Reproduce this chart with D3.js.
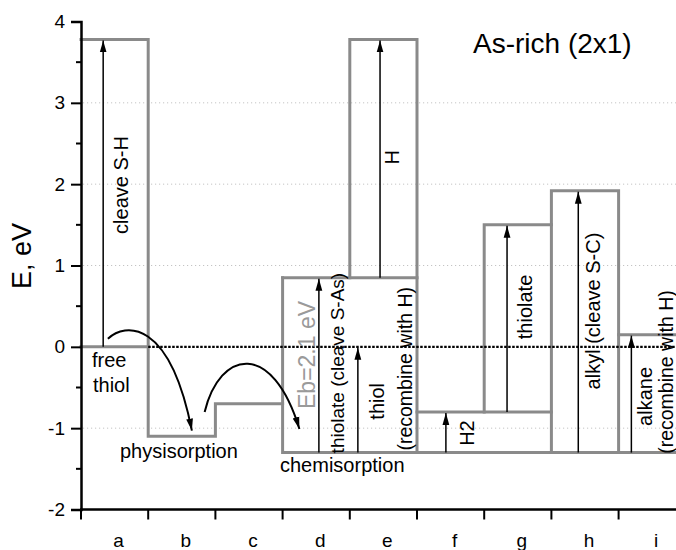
<!DOCTYPE html>
<html>
<head>
<meta charset="utf-8">
<script src="https://cdn.jsdelivr.net/npm/d3@7"></script>
<style>
  html, body { margin: 0; padding: 0; background: #fff; }
  svg { display: block; font-family: "Liberation Sans", Arial, Helvetica, sans-serif; }
</style>
</head>
<body>
<svg id="chart" width="676" height="550"></svg>
<script>
// ---------- data ----------
const categories = ["a", "b", "c", "d", "e", "f", "g", "h", "i"];
const yTickValues = [-2, -1, 0, 1, 2, 3, 4];
const yMinorValues = [-1.5, -0.5, 0.5, 1.5, 2.5, 3.5];
const gridValues = [-1, 1, 2, 3];

// energy-level outline, as [boundary index, energy (eV)] vertices
const levelOutlines = [
  [[0, 3.78], [1, 3.78], [1, -1.1], [2, -1.1], [2, -0.7], [3, -0.7]],
  [[0, 0], [1, 0]],
  [[3, 0.85], [5, 0.85]],
  [[3, 0.85], [3, -1.3], [9.3, -1.3]],
  [[4, 0.85], [4, 3.78], [5, 3.78], [5, -1.3]],
  [[5, -0.8], [7, -0.8]],
  [[6, -0.8], [6, 1.5], [7, 1.5]],
  [[7, -1.3], [7, 1.92], [8, 1.92], [8, -1.3]],
  [[8, 0.15], [9.3, 0.15]]
];

// vertical transition arrows: category, start energy, end energy
const arrowCats = ["a", "d", "e", "e", "f", "g", "h", "i"];
const arrowFrom = [0, -1.3, -1.3, 0.85, -1.3, -0.8, -1.3, -1.3];
const arrowTo = [3.78, 0.85, 0, 3.78, -0.8, 1.5, 1.92, 0.15];

// rotated labels
const vLabelText = ["cleave S-H", "H", "thiolate (cleave S-As)", "thiol", "(recombine with H)",
                    "H2", "thiolate", "alkyl  (cleave S-C)", "alkane", "(recombine with H)"];
const vLabelCat = ["a", "e", "d", "e", "e", "f", "g", "h", "i", "i"];
const vLabelE = [1.99, 2.33, -0.2, -0.67, -0.27, -1.06, 0.49, 0.44, -0.61, -0.31];

const ebText = "Eb=2.1 eV";
const stateText = ["free", "thiol", "physisorption", "chemisorption"];
const titleText = "As-rich (2x1)";
const yTitle = "E, eV";

// ---------- layout ----------
const arrowFrac = [0.33, 0.54, 0.12, 0.45, 0.43, 0.34, 0.40, 0.19];
const vLabelFrac = [0.60, 0.63, 0.81, 0.40, 0.82, 0.74, 0.61, 0.62, 0.40, 0.70];
const vLabelSize = [20, 20, 19, 20, 19.5, 20, 20, 20, 20, 19.5];

const svg = d3.select("#chart");
const x = d3.scaleBand().domain(categories).range([81, 685.8]).paddingInner(0).paddingOuter(0);
const y = d3.scaleLinear().domain([-2, 4]).range([509.5, 21.5]);
const bx = i => x.range()[0] + i * x.step();
const cx = (c, f) => x(c) + f * x.bandwidth();

const GRAY = "#8a8a8a";

// gridlines
svg.append("g").selectAll("line").data(gridValues).join("line")
  .attr("x1", 83).attr("x2", 676)
  .attr("y1", d => y(d)).attr("y2", d => y(d))
  .attr("stroke", "#c4c4c4").attr("stroke-width", 1).attr("stroke-dasharray", "1.2,2.8");

// outlines
const line = d3.line().x(d => bx(d[0])).y(d => y(d[1]));
svg.append("g").selectAll("path").data(levelOutlines).join("path")
  .attr("d", line).attr("fill", "none")
  .attr("stroke", GRAY).attr("stroke-width", 3).attr("stroke-linejoin", "miter").attr("stroke-linecap", "square");

// zero line
svg.append("line")
  .attr("x1", bx(1)).attr("x2", 676).attr("y1", y(0)).attr("y2", y(0))
  .attr("stroke", "#000").attr("stroke-width", 2.2).attr("stroke-dasharray", "2.5,1.5");

// arrow marker
const defs = svg.append("defs");
defs.append("marker").attr("id", "ah").attr("viewBox", "0 0 12 8")
  .attr("refX", 12).attr("refY", 4).attr("markerWidth", 12).attr("markerHeight", 8)
  .attr("markerUnits", "userSpaceOnUse").attr("orient", "auto")
  .append("path").attr("d", "M0,0.6 L12,4 L0,7.4 Z").attr("fill", "#000");

// vertical arrows
svg.append("g").selectAll("line").data(arrowCats).join("line")
  .attr("x1", (c, i) => cx(c, arrowFrac[i])).attr("x2", (c, i) => cx(c, arrowFrac[i]))
  .attr("y1", (c, i) => y(arrowFrom[i])).attr("y2", (c, i) => y(arrowTo[i]) + 1)
  .attr("stroke", "#000").attr("stroke-width", 1.5).attr("marker-end", "url(#ah)");

// curved arrows (in data space: boundary index, energy)
const curves = [
  [[0.40, 0.10], [0.65, 0.30], [1.32, 0.35], [1.65, -1.03]],
  [[1.84, -0.80], [2.07, -0.03], [2.85, 0.08], [3.25, -1.01]]
];
curves.forEach(c => {
  const p = c.map(d => [bx(d[0]), y(d[1])]);
  svg.append("path")
    .attr("d", `M${p[0]}C${p[1]} ${p[2]} ${p[3]}`)
    .attr("fill", "none").attr("stroke", "#000").attr("stroke-width", 2)
    .attr("marker-end", "url(#ah)");
});

// axes
const yAxis = d3.axisLeft(y).tickValues(yTickValues).tickSize(10).tickPadding(6).tickFormat(d => String(d));
const gy = svg.append("g").attr("transform", "translate(81,0)").call(yAxis);
gy.select(".domain").attr("stroke-width", 2.5);
gy.selectAll(".tick line").attr("stroke-width", 2);
gy.selectAll(".tick text").attr("font-size", 19).attr("font-family", "Liberation Sans, Arial, sans-serif").attr("fill", "#000");
svg.append("g").selectAll("line").data(yMinorValues).join("line")
  .attr("x1", 76).attr("x2", 81).attr("y1", d => y(d)).attr("y2", d => y(d))
  .attr("stroke", "#000").attr("stroke-width", 2);

const gx = svg.append("g").attr("transform", `translate(0,${y(-2)})`);
gx.append("line").attr("x1", 80).attr("x2", 676).attr("y1", 0).attr("y2", 0)
  .attr("stroke", "#000").attr("stroke-width", 2.5);
gx.selectAll("line.tk").data(d3.range(0, 10)).join("line").attr("class", "tk")
  .attr("x1", d => bx(d)).attr("x2", d => bx(d)).attr("y1", 0).attr("y2", 10)
  .attr("stroke", "#000").attr("stroke-width", 2);
gx.selectAll("text").data(categories).join("text")
  .attr("x", d => x(d) + x.bandwidth() / 2 + 4).attr("y", 37)
  .attr("text-anchor", "middle").attr("font-size", 19).text(d => d);

// y title
svg.append("text").attr("transform", "translate(22,256) rotate(-90)")
  .attr("text-anchor", "middle").attr("dominant-baseline", "central")
  .attr("font-size", 27).text(yTitle);

// title
svg.append("text").attr("x", 473).attr("y", 53).attr("font-size", 28).text(titleText);

// state labels
svg.append("text").attr("x", 92).attr("y", 367).attr("font-size", 20).text(stateText[0]);
svg.append("text").attr("x", 93).attr("y", 392).attr("font-size", 20).text(stateText[1]);
svg.append("text").attr("x", 120).attr("y", 458).attr("font-size", 20).text(stateText[2]);
svg.append("text").attr("x", 280).attr("y", 472).attr("font-size", 20).text(stateText[3]);

// Eb label
svg.append("text").attr("transform", `translate(${cx("d", 0.37)},${y(-0.1)}) rotate(-90)`)
  .attr("text-anchor", "middle").attr("dominant-baseline", "central")
  .attr("font-size", 23).attr("fill", "#9a9a9a").text(ebText);

// rotated labels
svg.append("g").selectAll("text").data(vLabelText).join("text")
  .attr("transform", (t, i) => `translate(${cx(vLabelCat[i], vLabelFrac[i])},${y(vLabelE[i])}) rotate(-90)`)
  .attr("text-anchor", "middle").attr("dominant-baseline", "central")
  .attr("font-size", (t, i) => vLabelSize[i]).attr("fill", "#000").text(t => t);
</script>
</body>
</html>
